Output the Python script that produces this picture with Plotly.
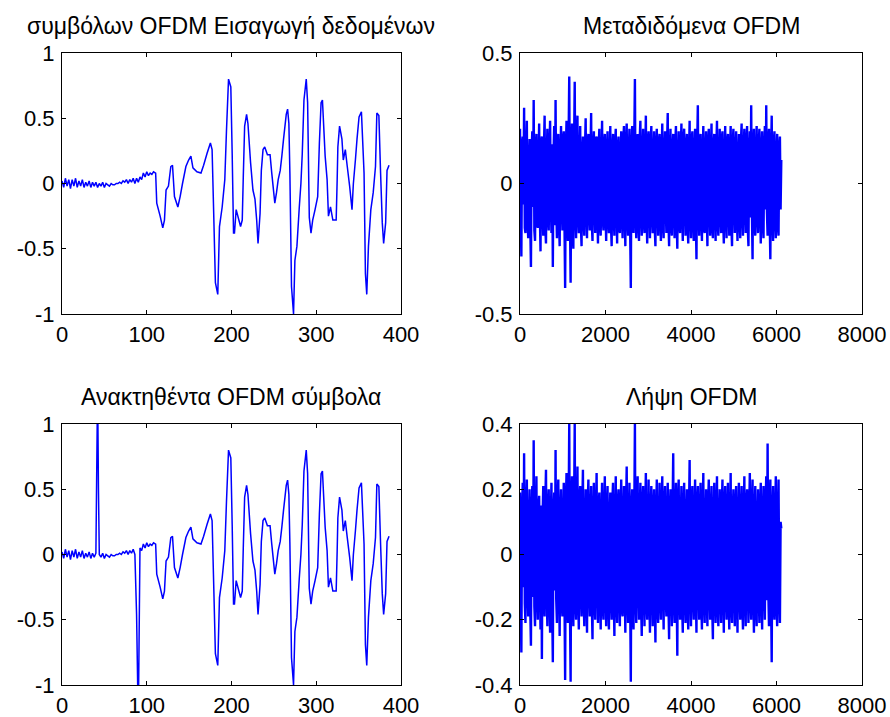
import numpy as np
import plotly.graph_objects as go

# ---- input data symbols (first 110 samples: pilot / low-level segment) ----
lead_x = list(range(0, 110, 2))
lead_y = [0.02, -0.03, 0.04, -0.02, 0.03, -0.04, 0.03, -0.02, 0.04, -0.03,
          0.02, -0.02, 0.03, -0.03, 0.01, -0.02, 0.02, -0.03, 0.01, -0.02,
          0.01, -0.03, 0.00, -0.02, 0.01, -0.03, 0.00, -0.01, -0.02, 0.00,
          -0.01, -0.01, 0.00, 0.00, 0.01, 0.00, 0.02, 0.01, 0.03, 0.00,
          0.03, 0.01, 0.04, 0.00, 0.04, 0.01, 0.05, 0.03, 0.08, 0.05,
          0.09, 0.06, 0.08, 0.07, 0.09]

# ---- input data symbols (main waveform) ----
wave_x = [110.5, 111.8, 115.8, 118.9, 120.9, 122.8, 125.6, 128.4, 130.4, 132.7,
          136.7, 139.4, 142.2, 146.2, 149.4, 152.1, 154.5, 159.2, 164.0, 167.1,
          171.1, 175.1, 177.1, 179.0, 181.0, 183.8, 185.8, 189.0, 192.1, 194.1,
          196.5, 199.2, 200.8, 202.4, 203.5, 205.5, 208.7, 210.7, 212.7, 213.9,
          215.5, 217.8, 219.4, 222.5, 225.3, 227.7, 229.7, 231.3, 233.7, 235.2,
          237.2, 239.2, 242.4, 245.5, 247.5, 251.1, 253.1, 255.1, 257.5, 259.4,
          261.4, 264.6, 266.2, 267.7, 268.9, 270.8, 273.2, 274.8, 277.2, 280.0,
          281.9, 283.5, 285.5, 288.2, 289.8, 291.8, 293.8, 295.8, 298.6, 301.7,
          303.7, 305.7, 307.3, 310.5, 312.8, 314.4, 316.8, 319.6, 323.5, 324.7,
          325.5, 327.5, 330.3, 331.9, 334.3, 336.6, 339.4, 342.2, 343.8, 346.2,
          348.1, 350.5, 353.3, 356.4, 358.0, 359.6, 361.6, 364.4, 367.2, 369.9,
          371.5, 373.9, 375.9, 377.9, 379.5, 381.9, 383.5, 385.9]
wave_y = [0.08, -0.15, -0.25, -0.34, -0.28, -0.05, -0.02, 0.13, 0.14, -0.10,
          -0.18, -0.10, 0.00, 0.13, 0.18, 0.21, 0.12, 0.09, 0.08, 0.14,
          0.23, 0.31, 0.26, -0.23, -0.76, -0.85, -0.33, -0.18, 0.03, 0.41,
          0.80, 0.74, 0.23, -0.38, -0.38, -0.20, -0.28, -0.33, -0.28, 0.05,
          0.44, 0.53, 0.46, 0.16, -0.05, -0.12, -0.28, -0.46, -0.23, 0.10,
          0.26, 0.28, 0.22, 0.22, 0.08, -0.15, -0.07, 0.03, 0.10, 0.21,
          0.34, 0.53, 0.57, 0.46, 0.08, -0.79, -1.00, -0.59, -0.48, -0.18,
          0.00, 0.23, 0.64, 0.80, 0.62, -0.26, -0.38, -0.28, -0.20, -0.10,
          0.31, 0.62, 0.64, 0.21, 0.03, -0.25, -0.18, -0.28, -0.28, 0.03,
          0.28, 0.44, 0.34, 0.18, 0.26, 0.13, -0.02, -0.20, 0.00, 0.18,
          0.34, 0.51, 0.55, 0.08, -0.69, -0.85, -0.48, -0.20, -0.07, 0.13,
          0.54, 0.52, 0.08, -0.30, -0.46, -0.30, 0.10, 0.14]

# ---- impulsive errors present in the recovered symbols ----
err_x = [42, 43, 88, 90]
err_y = [1.30, 0.51, -0.46, -1.30]

# ---- transmitted OFDM signal: even samples (step 32) and odd samples in between ----
tx_step = 16
tx_even = [
    0.21, -0.28, 0.18, 0.29, -0.19, 0.24, -0.21, 0.17, -0.32, 0.20, 0.32, -0.22, 0.19, -0.17, 0.23, -0.26,
    0.18, -0.20, 0.26, -0.23, 0.21, -0.18, 0.24, -0.19, -0.32, 0.22, 0.32, -0.21, 0.19, -0.24, 0.22, -0.18,
    0.20, -0.40, 0.24, -0.22, 0.41, -0.38, 0.23, -0.25, 0.39, -0.21, 0.26, -0.19, 0.22, -0.24, 0.18, -0.20,
    0.25, -0.21, 0.19, -0.18, 0.27, -0.22, 0.20, -0.19, 0.18, -0.23, 0.21, -0.20, 0.24, -0.18, 0.19, -0.22,
    0.20, -0.19, 0.22, -0.24, 0.19, -0.20, 0.21, -0.23, 0.18, -0.19, 0.20, -0.21, 0.22, -0.24, 0.23, -0.20,
    0.21, -0.40, 0.22, -0.19, 0.40, -0.21, 0.19, -0.22, 0.24, -0.20, 0.21, -0.19, 0.26, -0.23, 0.20, -0.21,
    0.22, -0.19, 0.20, -0.24, 0.21, -0.20, 0.19, -0.22, 0.23, -0.21, 0.20, -0.19, 0.27, -0.24, 0.21, -0.20,
    0.19, -0.21, 0.22, -0.25, 0.20, -0.19, 0.23, -0.22, 0.21, -0.20, 0.19, -0.23, 0.24, -0.21, 0.20, -0.22,
    0.21, -0.29, 0.30, -0.20, 0.19, -0.22, 0.22, -0.19, 0.20, -0.24, 0.21, -0.20, 0.23, -0.21, 0.19, -0.22,
    0.24, -0.20, 0.21, -0.19, 0.20, -0.23, 0.22, -0.21, 0.19, -0.20, 0.22, -0.24, 0.21, -0.19, 0.20, -0.22,
    0.19, -0.21, 0.23, -0.20, 0.21, -0.19, 0.22, -0.24, 0.20, 0.30, -0.29, 0.21, -0.20, 0.22, -0.19, 0.21,
    -0.23, 0.20, -0.21, 0.22, 0.30, -0.20, 0.21, -0.29, 0.26, -0.22, 0.20, -0.21, 0.19, -0.20, 0.18, 0.09,
]
tx_odd = [
    -0.12, 0.15, -0.08, -0.17, 0.10, -0.14, 0.06, -0.16, 0.13, -0.09, -0.18, 0.11, -0.15, 0.07, -0.12, 0.16,
    -0.10, 0.14, -0.17, 0.08, -0.13, 0.12, -0.06, 0.15, 0.11, -0.16, -0.09, 0.13, -0.14, 0.10, -0.07, 0.17,
    -0.15, 0.12, -0.11, 0.16, -0.13, 0.09, -0.17, 0.14, -0.10, 0.15, -0.12, 0.08, -0.16, 0.11, -0.14, 0.13,
    -0.09, 0.16, -0.12, 0.10, -0.15, 0.13, -0.08, 0.17, -0.11, 0.14, -0.16, 0.07, -0.13, 0.15, -0.10, 0.12,
    -0.14, 0.09, -0.16, 0.12, -0.11, 0.15, -0.07, 0.13, -0.17, 0.10, -0.12, 0.16, -0.09, 0.14, -0.13, 0.11,
    -0.16, 0.13, -0.10, 0.15, -0.12, 0.08, -0.14, 0.17, -0.11, 0.12, -0.15, 0.09, -0.13, 0.16, -0.08, 0.14,
    -0.12, 0.11, -0.17, 0.14, -0.09, 0.16, -0.13, 0.10, -0.15, 0.12, -0.07, 0.15, -0.14, 0.11, -0.16, 0.13,
    -0.10, 0.15, -0.13, 0.09, -0.16, 0.12, -0.11, 0.17, -0.08, 0.14, -0.15, 0.10, -0.12, 0.16, -0.14, 0.11,
    -0.13, 0.14, -0.09, 0.16, -0.12, 0.10, -0.17, 0.13, -0.11, 0.15, -0.08, 0.12, -0.16, 0.14, -0.10, 0.13,
    -0.15, 0.11, -0.12, 0.17, -0.14, 0.09, -0.13, 0.16, -0.10, 0.12, -0.16, 0.15, -0.07, 0.13, -0.12, 0.10,
    -0.14, 0.16, -0.11, 0.13, -0.09, 0.15, -0.17, 0.12, -0.13, -0.10, 0.14, -0.16, 0.11, -0.12, 0.15, -0.09,
    0.13, -0.15, 0.12, -0.10, -0.11, 0.16, -0.14, 0.09, -0.12, 0.15, -0.13, 0.11, -0.16, 0.14, -0.10,
]

# ---- received OFDM signal: even samples (step 32) and odd samples in between ----
rx_step = 16
rx_even = [
    0.19, -0.30, 0.22, 0.31, -0.21, 0.23, -0.19, 0.20, -0.28, 0.21, 0.35, -0.22, 0.24, -0.20, 0.18, -0.23,
    -0.32, 0.21, -0.19, 0.26, -0.22, 0.20, -0.24, 0.22, -0.33, 0.19, 0.32, -0.21, 0.23, -0.25, 0.20, -0.19,
    0.22, -0.385, 0.25, -0.21, 0.40, -0.39, 0.24, -0.22, 0.40, -0.20, 0.27, -0.23, 0.21, -0.19, 0.26, -0.22,
    0.20, -0.24, 0.23, -0.19, 0.21, -0.26, 0.22, -0.20, 0.25, -0.21, 0.19, -0.23, 0.22, -0.20, 0.24, -0.22,
    0.21, -0.23, 0.19, -0.20, 0.22, -0.25, 0.24, -0.21, 0.20, -0.22, 0.23, -0.19, 0.21, -0.24, 0.27, -0.21,
    0.22, -0.39, 0.20, -0.23, 0.40, -0.21, 0.24, -0.20, 0.22, -0.25, 0.21, -0.22, 0.25, -0.20, 0.23, -0.24,
    0.21, -0.22, 0.20, -0.27, 0.23, -0.21, 0.22, -0.20, 0.24, -0.23, 0.21, -0.19, 0.22, -0.26, 0.20, -0.22,
    0.31, -0.21, 0.22, -0.31, 0.23, -0.20, 0.21, -0.24, 0.22, -0.21, 0.20, -0.23, 0.29, -0.22, 0.21, -0.20,
    0.23, -0.24, 0.21, -0.20, 0.22, -0.23, 0.25, -0.21, 0.20, -0.22, 0.23, -0.20, 0.21, -0.26, 0.22, -0.21,
    0.24, -0.22, 0.20, -0.21, 0.23, -0.24, 0.21, -0.20, 0.22, -0.23, 0.25, -0.21, 0.20, -0.22, 0.21, -0.24,
    0.22, -0.20, 0.21, -0.23, 0.24, -0.22, 0.20, -0.21, 0.25, -0.20, 0.23, -0.24, 0.21, -0.22, 0.20, -0.21,
    0.22, -0.23, 0.21, -0.20, 0.24, 0.34, -0.22, 0.23, -0.33, 0.21, -0.20, 0.24, -0.22, 0.23, -0.21, 0.08,
]
rx_odd = [
    -0.14, 0.12, -0.10, -0.15, 0.13, -0.11, 0.08, -0.17, 0.12, -0.13, -0.16, 0.09, -0.12, 0.14, -0.10, 0.15,
    0.11, -0.13, 0.16, -0.09, 0.14, -0.12, 0.10, -0.15, 0.13, -0.11, -0.14, 0.16, -0.08, 0.12, -0.15, 0.10,
    -0.13, 0.15, -0.12, 0.11, -0.16, 0.14, -0.09, 0.13, -0.15, 0.10, -0.12, 0.17, -0.11, 0.14, -0.13, 0.09,
    -0.12, 0.16, -0.10, 0.13, -0.15, 0.11, -0.14, 0.12, -0.08, 0.15, -0.13, 0.10, -0.16, 0.12, -0.11, 0.14,
    -0.15, 0.10, -0.13, 0.16, -0.12, 0.09, -0.14, 0.15, -0.11, 0.13, -0.17, 0.12, -0.10, 0.14, -0.13, 0.11,
    -0.12, 0.14, -0.16, 0.10, -0.13, 0.15, -0.09, 0.12, -0.14, 0.16, -0.11, 0.13, -0.15, 0.08, -0.12, 0.14,
    -0.11, 0.15, -0.13, 0.12, -0.16, 0.10, -0.14, 0.13, -0.09, 0.16, -0.12, 0.11, -0.15, 0.14, -0.10, 0.12,
    -0.14, 0.13, -0.11, 0.16, -0.12, 0.09, -0.15, 0.14, -0.13, 0.10, -0.16, 0.12, -0.11, 0.15, -0.13, 0.11,
    -0.12, 0.16, -0.10, 0.13, -0.15, 0.12, -0.14, 0.09, -0.13, 0.15, -0.11, 0.14, -0.16, 0.10, -0.12, 0.13,
    -0.15, 0.11, -0.13, 0.14, -0.10, 0.16, -0.12, 0.13, -0.14, 0.09, -0.16, 0.12, -0.11, 0.15, -0.13, 0.10,
    -0.12, 0.14, -0.15, 0.11, -0.13, 0.16, -0.10, 0.12, -0.14, 0.15, -0.11, 0.13, -0.16, 0.09, -0.12, 0.14,
    -0.13, 0.12, -0.10, 0.15, -0.14, -0.11, 0.16, -0.12, 0.13, -0.15, 0.11, -0.14, 0.12, -0.13, 0.10,
]

titles = ["συμβόλων OFDM Εισαγωγή δεδομένων", "Μεταδιδόμενα OFDM",
          "Ανακτηθέντα OFDM σύμβολα", "Λήψη OFDM"]


def interleave(even, odd):
    out = []
    for i, v in enumerate(even):
        out.append(v)
        if i < len(odd):
            out.append(odd[i])
    return out


# assemble series
in_x = lead_x + wave_x
in_y = lead_y + wave_y
rec = dict(zip(in_x, in_y))
rec.update(zip(err_x, err_y))
rec_x = sorted(rec)
rec_y = [rec[k] for k in rec_x]
tx_y = interleave(tx_even, tx_odd)
rx_y = interleave(rx_even, rx_odd)
tx_x = np.arange(len(tx_y)) * tx_step
rx_x = np.arange(len(rx_y)) * rx_step

W, H = 890, 717
BLUE = "#0000ff"
FONT = "Liberation Sans, Arial, sans-serif"


def px_dom_x(a, b):
    return [a / W, b / W]


def px_dom_y(top, bottom):
    return [1 - bottom / H, 1 - top / H]


def trace(x, y, xa_id, ya_id, width):
    return go.Scatter(x=x, y=y, mode="lines",
                      line=dict(color=BLUE, width=width, simplify=False),
                      xaxis=xa_id, yaxis=ya_id, showlegend=False, hoverinfo="skip")


fig = go.Figure()
fig.add_trace(trace(in_x, in_y, "x", "y", 1.5))
fig.add_trace(trace(tx_x, tx_y, "x2", "y2", 2.4))
fig.add_trace(trace(rec_x, rec_y, "x3", "y3", 1.5))
fig.add_trace(trace(rx_x, rx_y, "x4", "y4", 2.4))

left_dx = px_dom_x(62, 401)
right_dx = px_dom_x(520, 862)
top_dy = px_dom_y(53, 314)
bot_dy = px_dom_y(424, 685)

axis_common = dict(showline=True, linecolor="black", linewidth=1, mirror="ticks",
                   ticks="inside", ticklen=4, tickcolor="black", showgrid=False,
                   zeroline=False, automargin=False,
                   tickfont=dict(family=FONT, size=22, color="black"),
                   fixedrange=True)


def xa(dom, rng, dtick, anchor):
    return dict(axis_common, domain=dom, range=rng, dtick=dtick, tick0=0, anchor=anchor,
                ticklabelstandoff=1)


def ya(dom, rng, tickvals, ticktext, anchor):
    return dict(axis_common, domain=dom, range=rng, tickvals=tickvals, ticktext=ticktext,
                anchor=anchor, ticklabelstandoff=2)


fig.update_layout(
    width=W, height=H, margin=dict(l=0, r=0, t=0, b=0, autoexpand=False),
    paper_bgcolor="white", plot_bgcolor="white",
    xaxis=xa(left_dx, [0, 400], 100, "y"),
    yaxis=ya(top_dy, [-1, 1], [-1, -0.5, 0, 0.5, 1], ["-1", "-0.5", "0", "0.5", "1"], "x"),
    xaxis2=xa(right_dx, [0, 8000], 2000, "y2"),
    yaxis2=ya(top_dy, [-0.5, 0.5], [-0.5, 0, 0.5], ["-0.5", "0", "0.5"], "x2"),
    xaxis3=xa(left_dx, [0, 400], 100, "y3"),
    yaxis3=ya(bot_dy, [-1, 1], [-1, -0.5, 0, 0.5, 1], ["-1", "-0.5", "0", "0.5", "1"], "x3"),
    xaxis4=xa(right_dx, [0, 8000], 2000, "y4"),
    yaxis4=ya(bot_dy, [-0.4, 0.4], [-0.4, -0.2, 0, 0.2, 0.4], ["-0.4", "-0.2", "0", "0.2", "0.4"], "x4"),
)

# subplot titles, centred over each axes box
title_pos = [((62 + 401) / 2, 26), ((520 + 862) / 2, 26),
             ((62 + 401) / 2, 397), ((520 + 862) / 2, 397)]
for t, (cx, cy) in zip(titles, title_pos):
    fig.add_annotation(text=t, x=cx / W, y=1 - cy / H, xref="paper", yref="paper",
                       xanchor="center", yanchor="middle", showarrow=False,
                       font=dict(family=FONT, size=23, color="black"))

fig.write_html("out.html")
